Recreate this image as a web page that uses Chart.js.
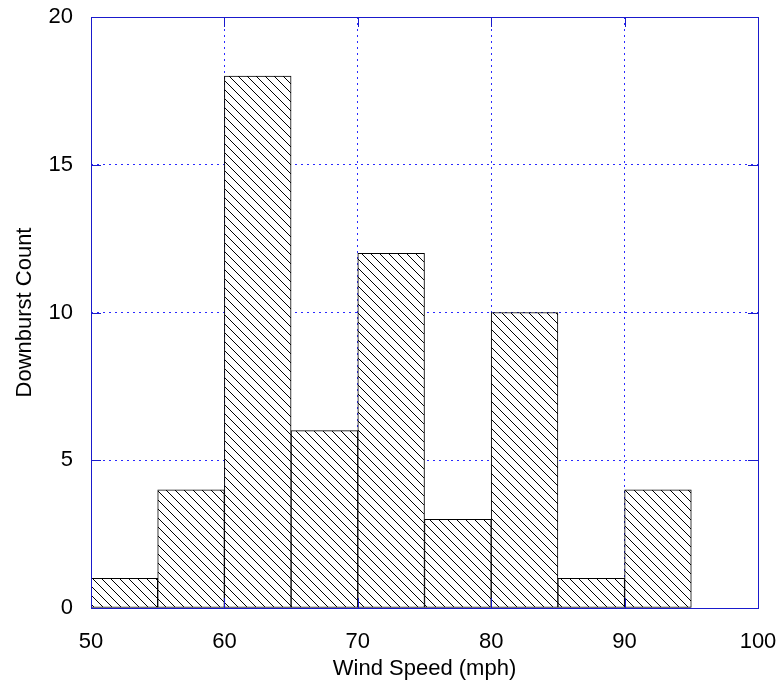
<!DOCTYPE html>
<html>
<head>
<meta charset="utf-8">
<script src="https://cdn.jsdelivr.net/npm/chart.js@4.4.1/dist/chart.umd.min.js"></script>
<style>
  html, body { margin: 0; padding: 0; background: #fff; }
  #wrap { width: 781px; height: 687px; }
</style>
</head>
<body>
<div id="wrap"><canvas id="histChart" width="781" height="687"></canvas></div>
<script>
// histogram bins (mph) and downburst counts
const binStarts = [50, 55, 60, 65, 70, 75, 80, 85, 90];
const binWidth = 5;
const counts = [1, 4, 18, 6, 12, 3, 10, 1, 4];
const xTicks = [50, 60, 70, 80, 90, 100];
const yTicks = [0, 5, 10, 15, 20];

const axisBlue = '#1a1acc';
const gridBlue = '#2a2aff';
const labelFont = { family: 'Liberation Sans', size: 22 };

// diagonal "\" hatch fill
function makeHatch() {
    const size = 9;
    const c = document.createElement('canvas');
    c.width = size; c.height = size;
    const g = c.getContext('2d');
    g.fillStyle = '#fff';
    g.fillRect(0, 0, size, size);
    g.strokeStyle = '#000';
    g.lineWidth = 1;
    g.beginPath();
    g.moveTo(-1, -1); g.lineTo(size + 1, size + 1);
    g.moveTo(-1, size - 1); g.lineTo(1, size + 1);
    g.moveTo(size - 1, -1); g.lineTo(size + 1, 1);
    g.stroke();
    return g.createPattern(c, 'repeat');
}

// frame plus inward tick marks on all four sides
const framePlugin = {
    id: 'frame',
    afterDraw: function (chart) {
        const ctx = chart.ctx;
        const a = chart.chartArea;
        const xs = chart.scales.x, ys = chart.scales.y;
        const len = 10;
        ctx.save();
        ctx.strokeStyle = axisBlue;
        ctx.lineWidth = 1;
        ctx.beginPath();
        xTicks.forEach(function (v) {
            const px = Math.round(xs.getPixelForValue(v)) + 0.5;
            ctx.moveTo(px, a.bottom); ctx.lineTo(px, a.bottom - len);
            ctx.moveTo(px, a.top); ctx.lineTo(px, a.top + len);
        });
        yTicks.forEach(function (v) {
            const py = Math.round(ys.getPixelForValue(v)) + 0.5;
            ctx.moveTo(a.left, py); ctx.lineTo(a.left + len, py);
            ctx.moveTo(a.right, py); ctx.lineTo(a.right - len, py);
        });
        ctx.stroke();
        ctx.strokeRect(Math.round(a.left) + 0.5, Math.round(a.top) + 0.5,
            Math.round(a.right - a.left), Math.round(a.bottom - a.top));
        ctx.restore();
    }
};

const canvas = document.getElementById('histChart');

new Chart(canvas, {
    type: 'bar',
    data: {
        datasets: [{
            data: binStarts.map(function (s, i) { return { x: s + binWidth / 2, y: counts[i] }; }),
            backgroundColor: makeHatch(),
            borderColor: '#000',
            borderWidth: 1,
            barPercentage: 1,
            categoryPercentage: 1,
            borderSkipped: false
        }]
    },
    options: {
        responsive: false,
        animation: false,
        layout: { padding: { left: 0, top: 17, right: 23, bottom: 0 } },
        plugins: {
            legend: { display: false },
            tooltip: { enabled: false }
        },
        scales: {
            x: {
                type: 'linear',
                min: 50,
                max: 100,
                offset: false,
                afterFit: function (s) {
                    s.height = 79;
                    s.paddingLeft = 0;
                    s.paddingRight = 0;
                },
                afterBuildTicks: function (s) { s.ticks = xTicks.map(function (v) { return { value: v }; }); },
                border: { display: false, dash: [2, 4] },
                grid: { color: gridBlue, drawTicks: false, lineWidth: 1, offset: false },
                ticks: { color: '#000', padding: 21, font: labelFont },
                title: {
                    display: true,
                    text: 'Wind Speed (mph)',
                    color: '#000',
                    padding: { top: 0, bottom: 5 },
                    font: labelFont
                }
            },
            y: {
                min: 0,
                max: 20,
                afterFit: function (s) {
                    s.width = 91;
                    s.paddingTop = 0;
                    s.paddingBottom = 0;
                },
                afterBuildTicks: function (s) { s.ticks = yTicks.map(function (v) { return { value: v }; }); },
                border: { display: false, dash: [2, 4] },
                grid: { color: gridBlue, drawTicks: false, lineWidth: 1 },
                ticks: { color: '#000', padding: 18, font: labelFont },
                title: {
                    display: true,
                    text: 'Downburst Count',
                    color: '#000',
                    padding: { top: 12 },
                    font: labelFont
                }
            }
        }
    },
    plugins: [framePlugin]
});
</script>
</body>
</html>
